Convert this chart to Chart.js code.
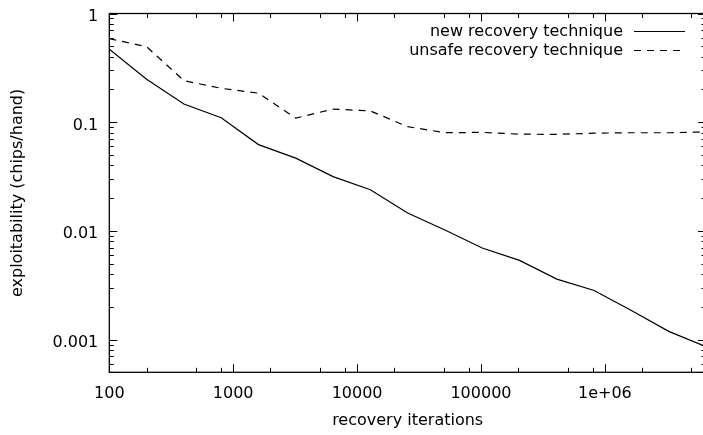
<!DOCTYPE html>
<html>
<head>
<script src="https://cdn.jsdelivr.net/npm/chart.js"></script>
<style>
  body { margin: 0; overflow: hidden; background: #fff; }
  #wrap { width: 712px; height: 435px; }
</style>
</head>
<body>
<div id="wrap"><canvas id="chart" width="712" height="435"></canvas></div>
<script>
// recovery iterations (doubling from 100)
const iterations = [100, 200, 400, 800, 1600, 3200, 6400, 12800, 25600, 51200,
                    102400, 204800, 409600, 819200, 1638400, 3276800, 6553600];
const newTechnique = [0.47, 0.248, 0.147, 0.110, 0.0622, 0.0467, 0.0316, 0.0239, 0.0146, 0.0102,
                      0.00695, 0.00535, 0.0036, 0.00283, 0.00185, 0.00119, 0.00086];
const unsafeTechnique = [0.586, 0.495, 0.241, 0.205, 0.185, 0.109, 0.132, 0.127, 0.091, 0.080,
                         0.0806, 0.0776, 0.0773, 0.0792, 0.080, 0.080, 0.0814];

const xTicks = [100, 1000, 10000, 100000, 1000000];
const xTickLabels = ['100', '1000', '10000', '100000', '1e+06'];
const yTicks = [0.001, 0.01, 0.1, 1];
const yTickLabels = ['0.001', '0.01', '0.1', '1'];

const FONT = '"DejaVu Sans"';
const SIZE = 16;

// gnuplot style frame with inward ticks on all four sides, plus the legend
const frame = {
  id: 'frame',
  afterDraw(chart) {
    const c = chart.ctx, a = chart.chartArea;
    const xs = chart.scales.x, ys = chart.scales.y;
    c.save();
    c.strokeStyle = '#000';
    c.lineWidth = 1.3;
    c.strokeRect(a.left, a.top, a.right - a.left, a.bottom - a.top);

    c.lineWidth = 1;
    c.beginPath();
    for (let d = 100; d <= 1e7; d *= 10) {
      [1, 2, 5, 8].forEach(m => {
        const v = d * m;
        if (v < xs.min || v > xs.max) return;
        const px = Math.round(xs.getPixelForValue(v)) + 0.5;
        const len = m === 1 ? 8 : 4.5;
        c.moveTo(px, a.bottom); c.lineTo(px, a.bottom - len);
        c.moveTo(px, a.top); c.lineTo(px, a.top + len);
      });
    }
    for (let d = 0.0001; d <= 1; d *= 10) {
      for (let m = 1; m <= 9; m++) {
        const v = d * m;
        if (v < ys.min * 0.999 || v > ys.max * 1.001) continue;
        const py = Math.round(ys.getPixelForValue(v)) + 0.5;
        const len = m === 1 ? 8 : 4.5;
        c.moveTo(a.left, py); c.lineTo(a.left + len, py);
        c.moveTo(a.right, py); c.lineTo(a.right - len, py);
      }
    }
    c.stroke();

    // legend: text right aligned, sample on the right
    c.font = SIZE + 'px ' + FONT;
    c.fillStyle = '#000';
    c.textAlign = 'right';
    c.textBaseline = 'middle';
    chart.data.datasets.forEach((ds, i) => {
      const y = 32 + i * 19;
      c.fillText(ds.label, 623, y);
      c.beginPath();
      c.setLineDash(ds.borderDash || []);
      c.lineWidth = ds.borderWidth;
      c.moveTo(634, y - 0.5); c.lineTo(685, y - 0.5);
      c.stroke();
    });
    c.setLineDash([]);
    c.restore();
  }
};

new Chart(document.getElementById('chart'), {
  type: 'line',
  data: {
    datasets: [{
      label: 'new recovery technique',
      data: iterations.map((x, i) => ({x: x, y: newTechnique[i]})),
      borderColor: '#000',
      borderWidth: 1.2,
      pointRadius: 0,
      tension: 0
    }, {
      label: 'unsafe recovery technique',
      data: iterations.map((x, i) => ({x: x, y: unsafeTechnique[i]})),
      borderColor: '#000',
      borderWidth: 1.2,
      borderDash: [7, 6],
      pointRadius: 0,
      tension: 0
    }]
  },
  options: {
    responsive: false,
    animation: false,
    layout: { padding: { top: 13.5, right: 6, left: 0, bottom: 0 } },
    plugins: { legend: { display: false }, tooltip: { enabled: false } },
    scales: {
      x: {
        type: 'logarithmic',
        min: 100,
        max: 6553600,
        afterFit: s => { s.height = 62.7; s.paddingLeft = 0; s.paddingRight = 0; },
        afterBuildTicks: s => { s.ticks = xTicks.map(v => ({value: v})); },
        grid: { display: false, drawTicks: false },
        border: { display: false },
        ticks: {
          autoSkip: false, maxRotation: 0, padding: 12, color: '#000',
          font: { family: FONT, size: SIZE },
          callback: v => xTickLabels[xTicks.indexOf(v)]
        },
        title: {
          display: true, text: 'recovery iterations', color: '#000',
          font: { family: FONT, size: SIZE }, padding: { top: 0, bottom: 4.7 }
        }
      },
      y: {
        type: 'logarithmic',
        min: 0.0005,
        max: 1,
        afterFit: s => { s.width = 109.3; s.paddingTop = 0; s.paddingBottom = 0; },
        afterBuildTicks: s => { s.ticks = yTicks.map(v => ({value: v})); },
        grid: { display: false, drawTicks: false },
        border: { display: false },
        ticks: {
          autoSkip: false, padding: 11, color: '#000',
          // empty first line with a small line height nudges the label to sit on its tick
          font: { family: FONT, size: SIZE, lineHeight: 0.4 },
          callback: v => ['', yTickLabels[yTicks.findIndex(t => Math.abs(t - v) < t * 1e-6)]]
        },
        title: {
          display: true, text: 'exploitability (chips/hand)', color: '#000',
          font: { family: FONT, size: SIZE }, padding: { top: 8.4, bottom: 0 }
        }
      }
    }
  },
  plugins: [frame]
});
</script>
</body>
</html>
